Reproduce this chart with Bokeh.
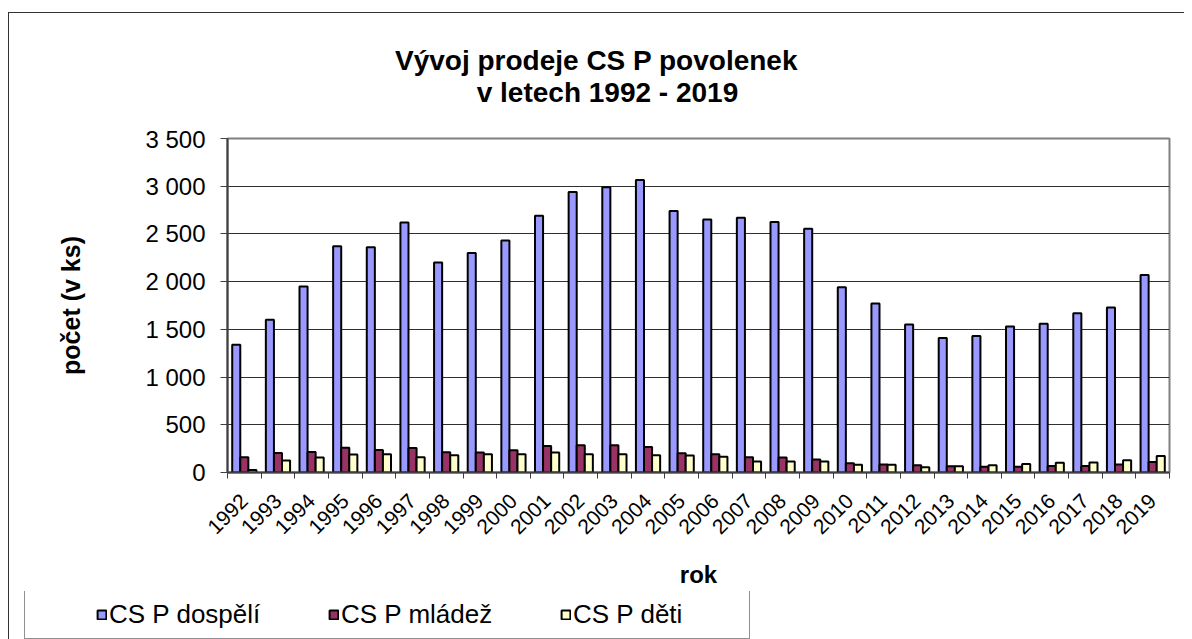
import numpy as np
from bokeh.plotting import figure
from bokeh.layouts import column
from bokeh.models import (ColumnDataSource, Range1d, FixedTicker, Legend, LegendItem,
                          Label, CustomJSTickFormatter)
from bokeh.transform import dodge
from bokeh.embed import file_html
from bokeh.resources import INLINE

# ---------------- data ----------------
years = ["1992", "1993", "1994", "1995", "1996", "1997", "1998", "1999", "2000",
         "2001", "2002", "2003", "2004", "2005", "2006", "2007", "2008", "2009",
         "2010", "2011", "2012", "2013", "2014", "2015", "2016", "2017", "2018", "2019"]
adults = [1340, 1600, 1950, 2370, 2360, 2620, 2200, 2300, 2430, 2690, 2940, 2990, 3065,
          2740, 2650, 2670, 2625, 2555, 1940, 1770, 1550, 1410, 1430, 1530, 1560, 1670,
          1730, 2070]
youth = [160, 205, 215, 260, 237, 258, 213, 209, 233, 278, 285, 285, 268, 202, 191, 160,
         157, 136, 97, 84, 76, 66, 59, 59, 69, 69, 84, 111]
kids = [25, 125, 157, 188, 192, 161, 182, 191, 191, 209, 191, 191, 181, 178, 164, 115,
        115, 115, 80, 80, 55, 66, 76, 90, 101, 104, 129, 174]
series_names = ["CS P dospělí", "CS P mládež", "CS P děti"]
y_ticks = [0, 500, 1000, 1500, 2000, 2500, 3000, 3500]
y_tick_labels = ["0", "500", "1 000", "1 500", "2 000", "2 500", "3 000", "3 500"]
title_line1 = "Vývoj prodeje CS P povolenek"
title_line2 = "v letech 1992 - 2019"
x_title = "rok"
y_title = "počet (v ks)"

COLORS = ["#9999FF", "#993366", "#FFFFCC"]
FONT = "Liberation Sans"
W = 1175

n = len(years)
centers = (np.arange(n) + 0.5).tolist()
bounds = list(range(n + 1))

# ---------------- title strip ----------------
TH = 112
pt = figure(width=W, height=TH, toolbar_location=None, output_backend="svg",
            x_range=Range1d(0, W), y_range=Range1d(0, TH), min_border=0,
            x_axis_location=None, y_axis_location=None)
pt.frame_align = False
pt.grid.visible = False
pt.outline_line_color = None
pt.add_layout(Label(x=587, y=65, text=title_line1, text_align="center",
                    text_baseline="alphabetic", text_font=FONT, text_font_size="28px",
                    text_font_style="bold", text_color="black"))
pt.add_layout(Label(x=598, y=33, text=title_line2, text_align="center",
                    text_baseline="alphabetic", text_font=FONT, text_font_size="28px",
                    text_font_style="bold", text_color="black"))

# ---------------- main chart ----------------
src = ColumnDataSource(dict(x=centers, adults=adults, youth=youth, kids=kids))

MH = 466
p = figure(width=W, height=MH, title=None, toolbar_location=None,
           output_backend="svg", x_range=Range1d(0, n), y_range=Range1d(0, 3500),
           min_border_left=218, min_border_right=15, min_border_top=13,
           min_border_bottom=119)
p.frame_align = False
p.background_fill_color = "white"
p.border_fill_color = "white"
p.outline_line_color = "#808080"
p.outline_line_width = 2

bw = 0.24
r_a = p.vbar(x=dodge("x", -bw, range=p.x_range), top="adults", width=bw, source=src,
             fill_color=COLORS[0], line_color="black", line_width=2)
r_y = p.vbar(x=dodge("x", 0, range=p.x_range), top="youth", width=bw, source=src,
             fill_color=COLORS[1], line_color="black", line_width=2)
r_k = p.vbar(x=dodge("x", bw, range=p.x_range), top="kids", width=bw, source=src,
             fill_color=COLORS[2], line_color="black", line_width=2)

xa = p.xaxis[0]
xa.ticker = FixedTicker(ticks=centers, minor_ticks=bounds)
xa.formatter = CustomJSTickFormatter(args=dict(labels=years),
                                     code="const i = Math.floor(tick); return labels[i] || '';")
xa.major_label_orientation = np.pi / 4
xa.major_tick_out = 0
xa.major_tick_in = 0
xa.minor_tick_out = 6
xa.minor_tick_in = 0
xa.minor_tick_line_color = "#404040"
xa.axis_line_color = "#404040"
xa.axis_line_width = 2
xa.major_label_text_font = FONT
xa.major_label_text_font_size = "21px"
xa.major_label_text_color = "black"
xa.major_label_standoff = 19
xa.axis_label = x_title
xa.axis_label_text_font = FONT
xa.axis_label_text_font_size = "24px"
xa.axis_label_text_font_style = "bold"
xa.axis_label_text_color = "black"
xa.axis_label_standoff = 18

ya = p.yaxis[0]
ya.ticker = FixedTicker(ticks=y_ticks, minor_ticks=[])
ya.formatter = CustomJSTickFormatter(args=dict(vals=y_ticks, labels=y_tick_labels),
                                     code="const i = vals.indexOf(tick); return i >= 0 ? labels[i] : '';")
ya.major_tick_out = 7
ya.major_tick_in = 0
ya.minor_tick_out = 0
ya.minor_tick_in = 0
ya.major_tick_line_color = "#404040"
ya.axis_line_color = "#404040"
ya.axis_line_width = 2
ya.major_label_text_font = FONT
ya.major_label_text_font_size = "24px"
ya.major_label_text_color = "black"
ya.major_label_standoff = 15
ya.axis_label = y_title
ya.axis_label_text_font = FONT
ya.axis_label_text_font_size = "25px"
ya.axis_label_text_font_style = "bold"
ya.axis_label_text_color = "black"
ya.axis_label_standoff = 57

p.xgrid.visible = False
p.ygrid.ticker = FixedTicker(ticks=y_ticks)
p.ygrid.grid_line_color = "#303030"
p.ygrid.grid_line_width = 1

# ---------------- legend strip ----------------
LH = 48
pl = figure(width=W, height=LH, toolbar_location=None, output_backend="svg",
            x_range=Range1d(0, 1), y_range=Range1d(0, 1), min_border=0,
            x_axis_location=None, y_axis_location=None)
pl.frame_align = False
pl.grid.visible = False
pl.outline_line_color = None
# legend-only renderers (NaN data: nothing is drawn in the strip itself)
lr = [pl.vbar(x=[np.nan], top=[np.nan], width=0.1, fill_color=c, line_color="black",
              line_width=2) for c in COLORS]
dummy = pl.vbar(x=[np.nan], top=[np.nan], width=0.1, fill_alpha=0, line_alpha=0)

box_leg = Legend(items=[LegendItem(label=" ", renderers=[dummy])],
                 location=(15, 0), orientation="horizontal",
                 padding=9, glyph_width=20, glyph_height=29, label_standoff=0,
                 label_width=686, label_text_font_size="1px",
                 border_line_color="#222222", border_line_width=1,
                 background_fill_color="white", background_fill_alpha=1, margin=0)
pl.add_layout(box_leg, "center")

items = [LegendItem(label=name, renderers=[r]) for name, r in zip(series_names, lr)]
leg = Legend(items=items, location=(87, 9), orientation="horizontal",
             padding=0, spacing=0, glyph_width=11, glyph_height=11, label_standoff=2,
             label_width=219, label_text_font=FONT, label_text_font_size="26px",
             label_text_color="black", border_line_alpha=0, background_fill_alpha=0,
             margin=0)
pl.add_layout(leg, "center")

layout = column(pt, p, pl, spacing=0)
layout.styles = {"border-left": "1px solid #333333", "border-top": "1px solid #333333",
                 "margin-top": "12px", "margin-left": "8px"}

open("out.html", "w").write(file_html(layout, INLINE))
